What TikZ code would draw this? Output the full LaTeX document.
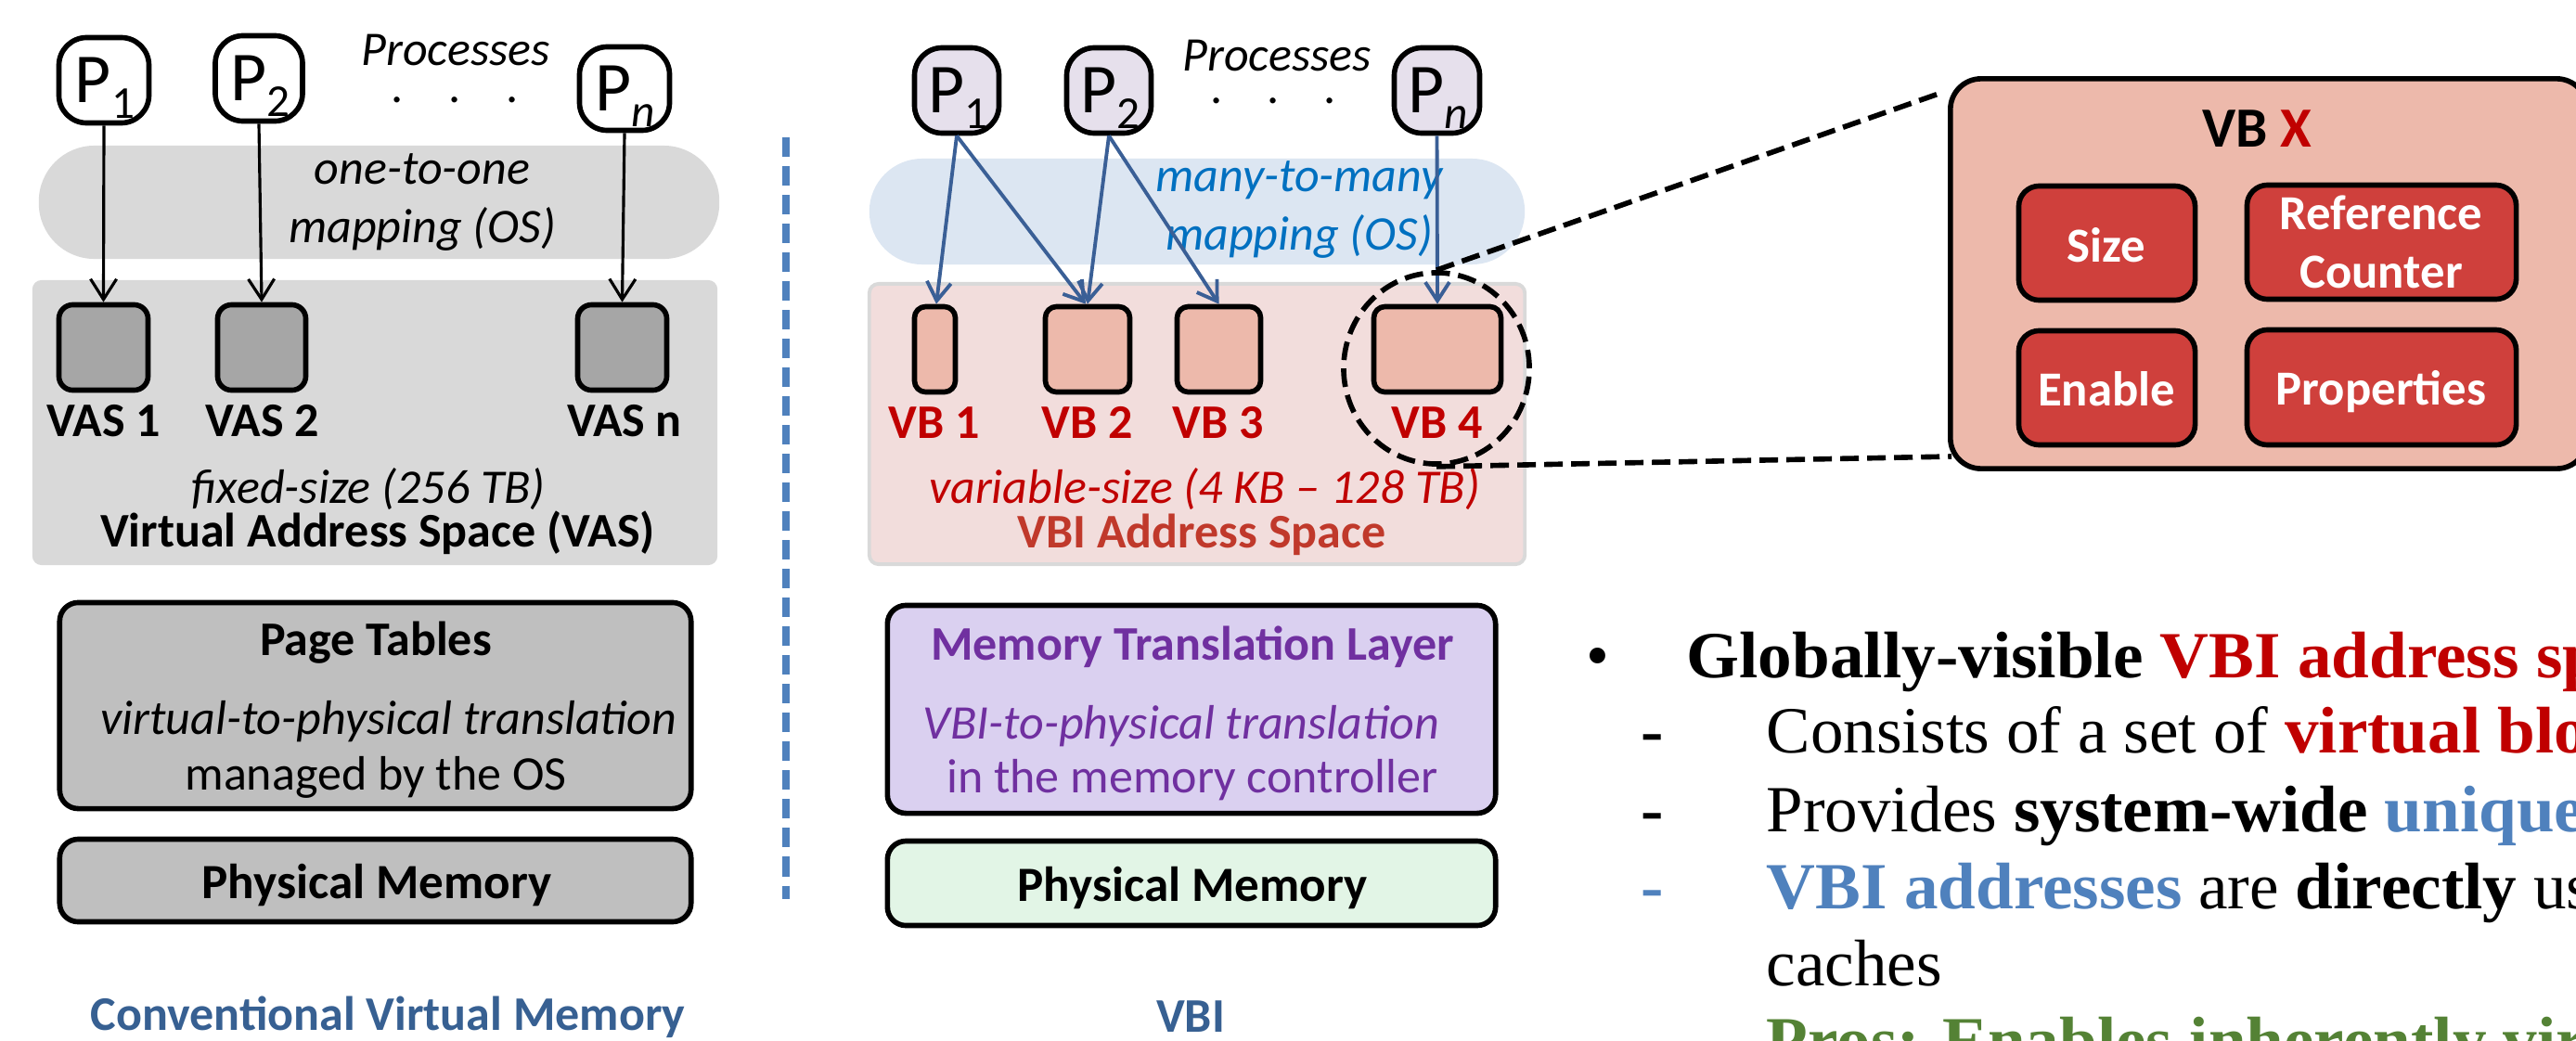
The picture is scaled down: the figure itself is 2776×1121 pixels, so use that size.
\documentclass[tikz,border=0pt]{standalone}
\usepackage{fontspec}
\setmainfont{Carlito}
\newfontfamily\bulletfont[BoldFeatures={FakeStretch=1.03}]{Liberation Serif}
\usetikzlibrary{arrows.meta,shapes.geometric}
\definecolor{gbg}{RGB}{217,217,217}
\definecolor{gbox}{RGB}{166,166,166}
\definecolor{gpt}{RGB}{191,191,191}
\definecolor{bluedash}{RGB}{79,129,189}
\definecolor{titleblue}{RGB}{55,96,146}
\definecolor{lav}{RGB}{230,224,236}
\definecolor{pillblue}{RGB}{220,230,242}
\definecolor{mapblue}{RGB}{0,112,192}
\definecolor{arrblue}{RGB}{58,95,150}
\definecolor{pinkbg}{RGB}{242,221,220}
\definecolor{vbfill}{RGB}{237,185,171}
\definecolor{darkred}{RGB}{192,0,0}
\definecolor{vbired}{RGB}{192,57,43}
\definecolor{purp}{RGB}{112,48,160}
\definecolor{mtlfill}{RGB}{218,208,240}
\definecolor{pmgreen}{RGB}{226,245,230}
\definecolor{fieldred}{RGB}{207,64,60}
\definecolor{prosgreen}{RGB}{84,130,53}
\newcommand\fsz[1]{\fontsize{#1}{#1}\selectfont}
\newcommand\pname[1]{\fsz{21.5pt}P\raisebox{-0.17cm}{\fsz{14pt}#1}}
\begin{document}
\begin{tikzpicture}[x=0.01cm,y=-0.01cm,
 bx/.style={draw=black,line width=1.6pt,inner sep=0pt,rounded corners=#1},
 bx/.default=0.15cm,
 bgshape/.style={inner sep=0pt,rounded corners=#1},
 txt/.style={inner sep=0pt,anchor=base,font=\fsz{14.8pt}},
 btxt/.style={txt,font=\fsz{14.8pt}\bfseries},
 itxt/.style={txt,font=\fsz{14.8pt}\itshape},
 ftxt/.style={txt,font=\fsz{15pt}\bfseries,text=white},
 dotstxt/.style={txt,text height=0.05cm,text depth=0cm},
 blackarrow/.style={line width=0.9pt,-{Straight Barb[length=0.22cm,width=0.28cm]}},
 bluearrow/.style={draw=arrblue,line width=1.1pt,-{Straight Barb[length=0.2cm,width=0.26cm]}},
 zoomdash/.style={line width=1.6pt,dash pattern=on 0.2cm off 0.09cm},
 bl/.style={inner sep=0pt,anchor=base west,font=\bulletfont\fsz{20.2pt}},
 bmark/.style={inner sep=0pt,anchor=base,font=\bulletfont\fsz{20.2pt}\bfseries},
]
\clip (0,0) rectangle (2776,1121);
\fill[white] (0,0) rectangle (2776,1121);

% ---------------- left panel ----------------
\node[bgshape=0.6cm,fill=gbg,minimum width=7.33cm,minimum height=1.22cm] (map1) at (408.5,218) {};
\node[bgshape=0.1cm,fill=gbg,minimum width=7.38cm,minimum height=3.07cm] (vasbg) at (404,455.5) {};

\node[bx=0.3cm,fill=white,minimum width=0.97cm,minimum height=0.92cm] (P1) at (112,86.5) {};
\node[bx=0.3cm,fill=white,minimum width=0.94cm,minimum height=0.92cm] (P2) at (279,84.5) {};
\node[bx=0.3cm,fill=white,minimum width=0.97cm,minimum height=0.90cm] (Pn) at (673,95.5) {};
\node[txt] (P1t) at (113,110) {\pname{1}};
\node[txt] (P2t) at (280.5,108) {\pname{2}};
\node[txt] (Pnt) at (674,119) {\pname{\itshape n}};

\node[itxt] (proc1) at (491,70) {Processes};
\node[dotstxt] (dots1) at (490,110) {.\hspace{0.49cm}.\hspace{0.49cm}.};
\node[itxt] (map1a) at (455,198) {one-to-one};
\node[itxt] (map1b) at (455,261) {mapping (OS)};

\node[bx,fill=gbox,minimum width=0.96cm,minimum height=0.92cm] (VAS1) at (111.5,374.5) {};
\node[bx,fill=gbox,minimum width=0.95cm,minimum height=0.92cm] (VAS2) at (282,374.5) {};
\node[bx,fill=gbox,minimum width=0.96cm,minimum height=0.92cm] (VASn) at (670.5,374.5) {};
\node[btxt] (VAS1l) at (112,470) {VAS 1};
\node[btxt] (VAS2l) at (283,470) {VAS 2};
\node[btxt] (VASnl) at (673,470) {VAS n};
\node[itxt] (fixed) at (397,542) {fixed-size (256 TB)};
\node[btxt] (vasname) at (407,589) {Virtual Address Space (VAS)};

\draw[blackarrow] (P1.south) -- (VAS1.north);
\draw[blackarrow] (P2.south) -- (VAS2.north);
\draw[blackarrow] (Pn.south) -- (VASn.north);

\node[bx=0.2cm,fill=gpt,minimum width=6.80cm,minimum height=2.22cm] (PT) at (404.5,760.5) {};
\node[btxt] (PTa) at (405,706) {Page Tables};
\node[itxt] (PTb) at (419,791) {virtual-to-physical translation};
\node[txt] (PTc) at (405,851) {managed by the OS};
\node[bx=0.2cm,fill=gpt,minimum width=6.80cm,minimum height=0.89cm] (PM1) at (404.5,949) {};
\node[btxt,font=\fsz{15.1pt}\bfseries] (PM1t) at (406,968) {Physical Memory};
\node[btxt,text=titleblue] (cvm) at (418,1110) {Conventional Virtual Memory};

% divider
\coordinate (divT) at (847,148);
\coordinate (divB) at (847,969);
\draw[bluedash,line width=2pt,dash pattern=on 0.21cm off 0.1cm] (divT) -- (divB);

% ---------------- right panel ----------------
\node[bgshape=0.57cm,fill=pillblue,minimum width=7.06cm,minimum height=1.14cm] (map2) at (1290,228) {};
\node[bgshape=0.1cm,fill=pinkbg,draw=gbg,line width=1.1pt,minimum width=7.06cm,minimum height=3.02cm] (vbibg) at (1290,457) {};

\node[bx=0.3cm,fill=lav,minimum width=0.91cm,minimum height=0.92cm] (Q1) at (1031,97.5) {};
\node[bx=0.3cm,fill=lav,minimum width=0.91cm,minimum height=0.92cm] (Q2) at (1195,97.5) {};
\node[bx=0.3cm,fill=lav,minimum width=0.92cm,minimum height=0.92cm] (Qn) at (1548.5,97.5) {};
\node[txt] (Q1t) at (1032,121) {\pname{1}};
\node[txt] (Q2t) at (1196,121) {\pname{2}};
\node[txt] (Qnt) at (1549.5,121) {\pname{\itshape n}};

\node[itxt] (proc2) at (1376,77) {Processes};
\node[dotstxt] (dots2) at (1372,111) {.\hspace{0.48cm}.\hspace{0.48cm}.};
\node[itxt,text=mapblue] (map2a) at (1400,206) {many-to-many};
\node[itxt,text=mapblue] (map2b) at (1400,269) {mapping (OS)};

\node[bx=0.12cm,fill=vbfill,minimum width=0.44cm,minimum height=0.92cm] (VB1) at (1007.5,376.5) {};
\node[bx=0.12cm,fill=vbfill,minimum width=0.91cm,minimum height=0.92cm] (VB2) at (1172,376.5) {};
\node[bx=0.12cm,fill=vbfill,minimum width=0.90cm,minimum height=0.92cm] (VB3) at (1313.5,376.5) {};
\node[bx=0.12cm,fill=vbfill,minimum width=1.37cm,minimum height=0.92cm] (VB4) at (1549,376.5) {};
\node[btxt,text=darkred] (VB1l) at (1007,472) {VB 1};
\node[btxt,text=darkred] (VB2l) at (1172,472) {VB 2};
\node[btxt,text=darkred] (VB3l) at (1313,472) {VB 3};
\node[btxt,text=darkred] (VB4l) at (1549,472) {VB 4};
\node[itxt,text=darkred] (varsz) at (1298,542) {variable-size (4 KB -- 128 TB)};
\node[btxt,text=vbired] (vbiname) at (1295,590) {VBI Address Space};

\draw[bluearrow] (Q1.south) -- ([xshift=0.015cm]VB1.north);
\draw[bluearrow] (Q1.south) -- ([xshift=-0.02cm]VB2.north);
\draw[bluearrow] (Q2.south) -- (VB2.north);
\draw[bluearrow] (Q2.south) -- (VB3.north);
\draw[bluearrow] (Qn.south) -- (VB4.north);

\node[ellipse,draw=black,zoomdash,inner sep=0pt,minimum width=2.0cm,minimum height=2.06cm] (circ) at (1548,397) {};

\node[bx=0.2cm,fill=mtlfill,minimum width=6.55cm,minimum height=2.24cm] (MTL) at (1284,764.5) {};
\node[btxt,text=purp] (MTLa) at (1285,711) {Memory Translation Layer};
\node[itxt,text=purp] (MTLb) at (1273,796) {VBI-to-physical translation};
\node[txt,text=purp] (MTLc) at (1285,854) {in the memory controller};
\node[bx=0.2cm,fill=pmgreen,minimum width=6.55cm,minimum height=0.91cm] (PM2) at (1284,952) {};
\node[btxt,font=\fsz{15.1pt}\bfseries] (PM2t) at (1285,971) {Physical Memory};
\node[btxt,text=titleblue] (vbititle) at (1283,1112) {VBI};

% ---------------- zoomed VB ----------------
\node[bx=0.33cm,fill=vbfill,minimum width=6.86cm,minimum height=4.20cm] (VBX) at (2445,295) {};
\node[txt,font=\fsz{17.4pt}\bfseries] (VBXt) at (2432,158) {VB \textcolor{darkred}{X}};
\node[bx=0.22cm,fill=fieldred,minimum width=1.90cm,minimum height=1.23cm] (fsize) at (2270.5,262) {};
\node[bx=0.22cm,fill=fieldred,minimum width=2.90cm,minimum height=1.23cm] (fref) at (2566.5,261) {};
\node[bx=0.22cm,fill=fieldred,minimum width=1.90cm,minimum height=1.23cm] (fen) at (2270.5,418) {};
\node[bx=0.22cm,fill=fieldred,minimum width=2.90cm,minimum height=1.24cm] (fprop) at (2566.5,417.5) {};
\node[ftxt] (fsizet) at (2270,282) {Size};
\node[ftxt] (freft1) at (2566,247) {Reference};
\node[ftxt] (freft2) at (2566,310) {Counter};
\node[ftxt] (fent) at (2270,437) {Enable};
\node[ftxt] (fpropt) at (2566,436) {Properties};

\coordinate (vbxA) at (2092,100);
\coordinate (vbxB) at (2103,492);
\draw[zoomdash] (circ.north) -- (vbxA);
\draw[zoomdash] (circ.south) -- (vbxB);

% ---------------- bullet text ----------------
\node[inner sep=0pt,anchor=base,font=\bulletfont\fsz{20.2pt}] (bul) at (1722,730) {•};
\node[bl] (l1) at (1817,730) {\bfseries Globally-visible \textcolor{darkred}{VBI address space}};
\node[bmark] (d2) at (1781,811) {-};
\node[bl] (l2) at (1903,811) {Consists of a set of \textcolor{darkred}{\bfseries virtual blocks}};
\node[bmark] (d3) at (1781,896) {-};
\node[bl] (l3) at (1903,896) {Provides {\bfseries system-wide} \textcolor{bluedash}{\bfseries unique}};
\node[bmark,text=bluedash] (d4) at (1781,979) {-};
\node[bl] (l4) at (1903,979) {\textcolor{bluedash}{\bfseries VBI addresses} are {\bfseries directly} used};
\node[bl] (l5) at (1903,1062) {caches};
\node[bl,text=prosgreen] (l6) at (1903,1145) {\bfseries Pros: Enables inherently virtual};
\end{tikzpicture}
\end{document}
